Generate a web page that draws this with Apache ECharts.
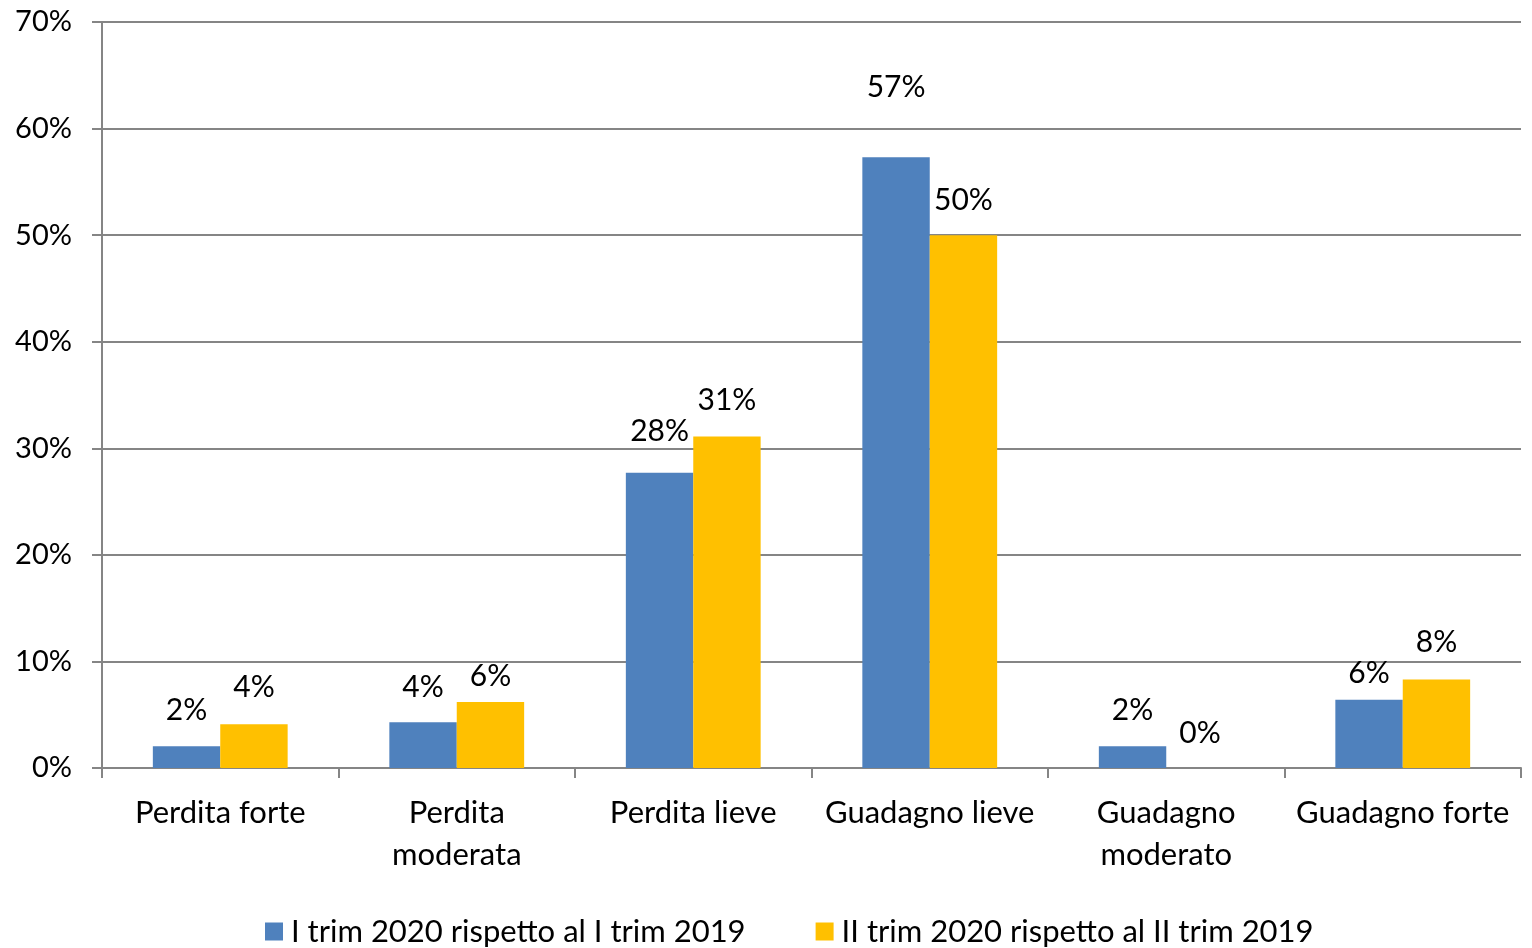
<!DOCTYPE html>
<html>
<head>
<meta charset="utf-8">
<script src="https://cdn.jsdelivr.net/npm/echarts@6/dist/echarts.min.js"></script>
<style>
html,body{margin:0;padding:0;background:#fff;}
#c{width:1532px;height:948px;}
</style>
</head>
<body>
<div id="c"></div>
<script>
const categories = ['Perdita forte', 'Perdita\nmoderata', 'Perdita lieve', 'Guadagno lieve', 'Guadagno\nmoderato', 'Guadagno forte'];
const seriesNames = ['I trim 2020 rispetto al I trim 2019', 'II trim 2020 rispetto al II trim 2019'];
const seriesQ1 = [2.05, 4.3, 27.7, 57.3, 2.05, 6.4];
const seriesQ2 = [4.1, 6.2, 31.1, 50.0, 0.0, 8.3];
const yTicks = [0, 10, 20, 30, 40, 50, 60, 70];

// label distances above bar tops (layout only)
const distQ1 = [21, 20, 26, 55, 21, 11];
const distQ2 = [22, 11, 21, 20, 20, 22];

const FONT = 'Lato';
const TXT = '#000000';
const GRID = '#858585';

function build(values, dists) {
  return values.map((v, i) => ({
    value: v,
    label: { distance: dists[i] }
  }));
}

const chart = echarts.init(document.getElementById('c'), null, { renderer: 'canvas' });
chart.setOption({
  animation: false,
  textStyle: { fontFamily: FONT },
  grid: { left: 102, right: 11, top: 22, bottom: 180, containLabel: false },
  legend: {
    data: seriesNames,
    top: 911,
    left: 260,
    itemWidth: 18,
    itemHeight: 18,
    itemGap: 70,
    icon: 'rect',
    textStyle: { fontFamily: FONT, fontSize: 31, color: TXT, padding: [0, 0, 0, 3] }
  },
  xAxis: {
    type: 'category',
    data: categories,
    axisLine: { show: true, lineStyle: { color: GRID, width: 2 } },
    axisTick: { show: true, length: 10, alignWithLabel: false, lineStyle: { color: GRID, width: 2 } },
    axisLabel: { interval: 0, margin: 24, fontFamily: FONT, fontSize: 31, color: TXT, lineHeight: 42 },
    splitLine: { show: false }
  },
  yAxis: {
    type: 'value',
    min: yTicks[0],
    max: yTicks[yTicks.length - 1],
    interval: 10,
    axisLine: { show: true, lineStyle: { color: GRID, width: 2 } },
    axisTick: { show: true, length: 10, lineStyle: { color: GRID, width: 2 } },
    axisLabel: { formatter: '{value}%', margin: 30, fontFamily: FONT, fontSize: 29, color: TXT },
    splitLine: { show: true, lineStyle: { color: GRID, width: 2 } }
  },
  series: [
    {
      name: seriesNames[0],
      type: 'bar',
      data: build(seriesQ1, distQ1),
      barGap: '0%',
      barCategoryGap: '43%',
      itemStyle: { color: '#4F81BD' },
      label: {
        show: true, position: 'top', fontFamily: FONT, fontSize: 30, color: TXT,
        formatter: p => Math.round(p.value) + '%'
      }
    },
    {
      name: seriesNames[1],
      type: 'bar',
      data: build(seriesQ2, distQ2),
      barGap: '0%',
      barCategoryGap: '43%',
      itemStyle: { color: '#FFC000' },
      label: {
        show: true, position: 'top', fontFamily: FONT, fontSize: 30, color: TXT,
        formatter: p => Math.round(p.value) + '%'
      }
    }
  ]
});
</script>
</body>
</html>
